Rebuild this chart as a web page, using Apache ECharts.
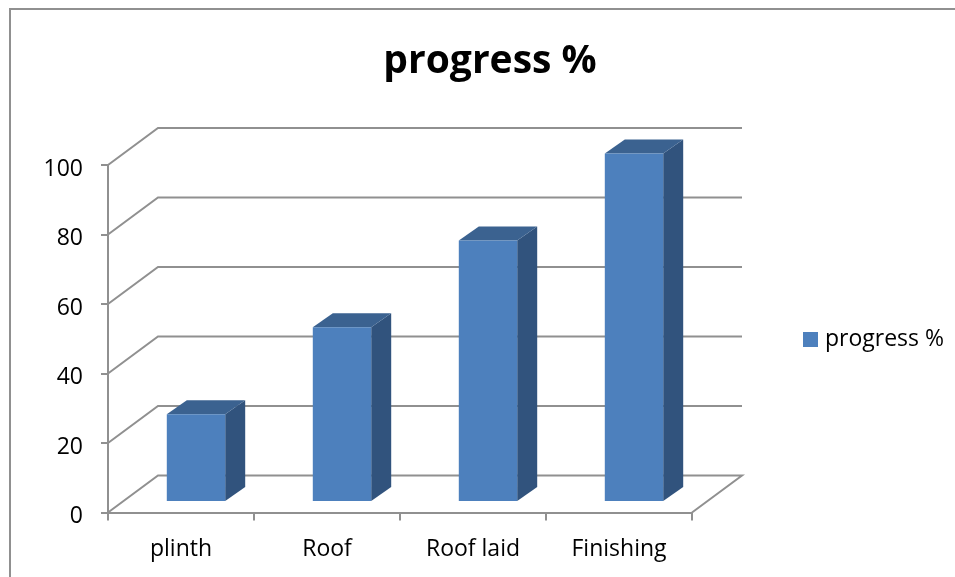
<!DOCTYPE html>
<html>
<head>
<meta charset="utf-8">
<title>progress %</title>
<script src="https://cdn.jsdelivr.net/npm/echarts@6/dist/echarts.min.js"></script>
<style>
html, body { margin: 0; padding: 0; background: #fff; }
#main { width: 955px; height: 577px; }
</style>
</head>
<body>
<div id="main"></div>
<script>
var categories = ['plinth', 'Roof', 'Roof laid', 'Finishing'];
var seriesName = 'progress %';
var progress = [25, 50, 75, 100];
var yTicks = [0, 20, 40, 60, 80, 100];

var font = '"Open Sans", sans-serif';
var lineColor = '#909090';
var wallDx = 50, wallDy = -37; // depth of the 3D box
var barDx = 20, barDy = -14; // depth of one bar

var myChart = echarts.init(document.getElementById('main'));

// back wall and floor lines
function renderWall(params, api) {
	var v = api.value(0);
	var band = api.size([1, 0])[0];
	var p = api.coord([0, v]);
	var left = p[0] - band / 2;
	var right = left + band * categories.length;
	var pts = [[left, p[1]], [left + wallDx, p[1] + wallDy], [right + wallDx, p[1] + wallDy]];
	if (v === 0) pts.push([right, p[1]]);
	return {
		type: 'polyline',
		shape: { points: pts },
		style: { fill: null, stroke: lineColor, lineWidth: 2 }
	};
}

// one bar: front, top and side faces
function renderBar(params, api) {
	var band = api.size([1, 0])[0];
	var w = band * 0.4;
	var top = api.coord([api.value(0), api.value(1)]);
	var base = api.coord([api.value(0), 0]);
	var x = top[0] - w / 2 + (wallDx - barDx) / 2;
	var shift = (wallDy - barDy) / 2;
	var y0 = top[1] + shift, y1 = base[1] + shift;
	return {
		type: 'group',
		children: [{
			type: 'polygon',
			shape: { points: [[x + w, y0], [x + w + barDx, y0 + barDy], [x + w + barDx, y1 + barDy], [x + w, y1]] },
			style: { fill: '#31537d' }
		}, {
			type: 'polygon',
			shape: { points: [[x, y0], [x + barDx, y0 + barDy], [x + w + barDx, y0 + barDy], [x + w, y0]] },
			style: { fill: '#3b6290' }
		}, {
			type: 'rect',
			shape: { x: x, y: y0, width: w, height: y1 - y0 },
			style: { fill: '#4d80bd' }
		}]
	};
}

var option = {
	animation: false,
	backgroundColor: '#fff',
	title: {
		text: 'progress %',
		left: 485,
		textAlign: 'center',
		top: 37,
		textStyle: { fontFamily: font, fontSize: 39, fontWeight: 'bold', color: '#000' }
	},
	legend: {
		data: [seriesName],
		left: 798,
		top: 323,
		icon: 'rect',
		itemWidth: 15,
		itemHeight: 15,
		itemGap: 0,
		textStyle: { fontFamily: font, fontSize: 23, color: '#000', padding: [0, 0, 0, 2] }
	},
	grid: { left: 108, top: 165, width: 584, height: 347.5 },
	xAxis: {
		type: 'category',
		data: categories,
		axisLine: { lineStyle: { color: lineColor, width: 2 } },
		axisTick: { show: true, length: 8, lineStyle: { color: lineColor, width: 2 } },
		axisLabel: { margin: 25, fontFamily: font, fontSize: 23, color: '#000' },
		splitLine: { show: false }
	},
	yAxis: {
		type: 'value',
		min: 0,
		max: 100,
		interval: 20,
		axisLine: { show: true, lineStyle: { color: lineColor, width: 2 } },
		axisTick: { show: true, length: 7, lineStyle: { color: lineColor, width: 2 } },
		axisLabel: { margin: 25, fontFamily: font, fontSize: 23, color: '#000', verticalAlign: 'top', lineHeight: 8 },
		splitLine: { show: false }
	},
	series: [{
		name: 'wall',
		type: 'custom',
		silent: true,
		z: 1,
		clip: false,
		renderItem: renderWall,
		encode: { y: 0 },
		data: yTicks.map(function(v) { return [v]; })
	}, {
		name: seriesName,
		type: 'custom',
		z: 3,
		clip: false,
		itemStyle: { color: '#4d80bd' },
		renderItem: renderBar,
		encode: { x: 0, y: 1 },
		data: progress.map(function(v, i) { return [i, v]; })
	}],
	graphic: [{
		type: 'polyline',
		silent: true,
		shape: { points: [[10, 577], [10, 9], [955, 9]] },
		style: { fill: null, stroke: lineColor, lineWidth: 2 }
	}]
};

myChart.setOption(option);
</script>
</body>
</html>
